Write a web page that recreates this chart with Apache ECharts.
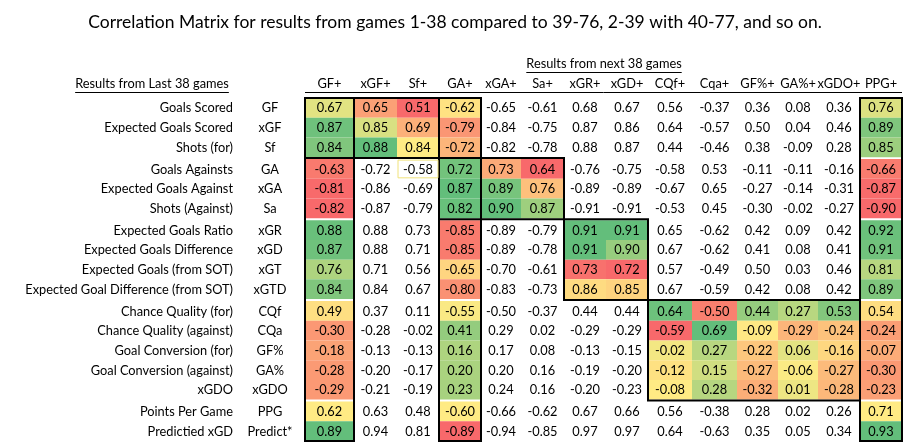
<!DOCTYPE html>
<html>
<head>
<meta charset="utf-8">
<script src="https://cdn.jsdelivr.net/npm/echarts@6/dist/echarts.min.js"></script>
<style>
  html, body { margin: 0; padding: 0; background: #fff; }
  #chart { width: 908px; height: 444px; }
</style>
</head>
<body>
<div id="chart"></div>
<script>
// row labels (results from last 38 games)
const rowNames = [
  "Goals Scored", "Expected Goals Scored", "Shots (for)",
  "Goals Againsts", "Expected Goals Against", "Shots (Against)",
  "Expected Goals Ratio", "Expected Goals Difference", "Expected Goals (from SOT)", "Expected Goal Difference (from SOT)",
  "Chance Quality (for)", "Chance Quality (against)", "Goal Conversion (for)", "Goal Conversion (against)", "xGDO",
  "Points Per Game", "Predictied xGD"
];
const rowCodes = [
  "GF", "xGF", "Sf",
  "GA", "xGA", "Sa",
  "xGR", "xGD", "xGT", "xGTD",
  "CQf", "CQa", "GF%", "GA%", "xGDO",
  "PPG", "Predict*"
];
// how many rows in each block
const rowGroups = [3, 3, 4, 5, 2];

// column labels (results from next 38 games)
const colNames = ["GF+", "xGF+", "Sf+", "GA+", "xGA+", "Sa+", "xGR+", "xGD+", "CQf+", "Cqa+", "GF%+", "GA%+", "xGDO+", "PPG+"];
const colGroups = [3, 3, 2, 5, 1];

// correlations, one row per label above
const values = [
  [0.67, 0.65, 0.51, -0.62, -0.65, -0.61, 0.68, 0.67, 0.56, -0.37, 0.36, 0.08, 0.36, 0.76],
  [0.87, 0.85, 0.69, -0.79, -0.84, -0.75, 0.87, 0.86, 0.64, -0.57, 0.50, 0.04, 0.46, 0.89],
  [0.84, 0.88, 0.84, -0.72, -0.82, -0.78, 0.88, 0.87, 0.44, -0.46, 0.38, -0.09, 0.28, 0.85],
  [-0.63, -0.72, -0.58, 0.72, 0.73, 0.64, -0.76, -0.75, -0.58, 0.53, -0.11, -0.11, -0.16, -0.66],
  [-0.81, -0.86, -0.69, 0.87, 0.89, 0.76, -0.89, -0.89, -0.67, 0.65, -0.27, -0.14, -0.31, -0.87],
  [-0.82, -0.87, -0.79, 0.82, 0.90, 0.87, -0.91, -0.91, -0.53, 0.45, -0.30, -0.02, -0.27, -0.90],
  [0.88, 0.88, 0.73, -0.85, -0.89, -0.79, 0.91, 0.91, 0.65, -0.62, 0.42, 0.09, 0.42, 0.92],
  [0.87, 0.88, 0.71, -0.85, -0.89, -0.78, 0.91, 0.90, 0.67, -0.62, 0.41, 0.08, 0.41, 0.91],
  [0.76, 0.71, 0.56, -0.65, -0.70, -0.61, 0.73, 0.72, 0.57, -0.49, 0.50, 0.03, 0.46, 0.81],
  [0.84, 0.84, 0.67, -0.80, -0.83, -0.73, 0.86, 0.85, 0.67, -0.59, 0.42, 0.08, 0.42, 0.89],
  [0.49, 0.37, 0.11, -0.55, -0.50, -0.37, 0.44, 0.44, 0.64, -0.50, 0.44, 0.27, 0.53, 0.54],
  [-0.30, -0.28, -0.02, 0.41, 0.29, 0.02, -0.29, -0.29, -0.59, 0.69, -0.09, -0.29, -0.24, -0.24],
  [-0.18, -0.13, -0.13, 0.16, 0.17, 0.08, -0.13, -0.15, -0.02, 0.27, -0.22, 0.06, -0.16, -0.07],
  [-0.28, -0.20, -0.17, 0.20, 0.20, 0.16, -0.19, -0.20, -0.12, 0.15, -0.27, -0.06, -0.27, -0.30],
  [-0.29, -0.21, -0.19, 0.23, 0.24, 0.16, -0.20, -0.23, -0.08, 0.28, -0.32, 0.01, -0.28, -0.23],
  [0.62, 0.63, 0.48, -0.60, -0.66, -0.62, 0.67, 0.66, 0.56, -0.38, 0.28, 0.02, 0.26, 0.71],
  [0.89, 0.94, 0.81, -0.89, -0.94, -0.85, 0.97, 0.97, 0.64, -0.63, 0.35, 0.05, 0.34, 0.93]
];

// colour-scale ranges [rowFrom, rowTo, colFrom, colTo]; first match wins (like excel rule order)
const scaleRanges = [
  [0, 16, 0, 0], [0, 16, 3, 3], [0, 16, 13, 13],
  [0, 2, 0, 2], [3, 5, 3, 5], [6, 9, 6, 7], [10, 14, 8, 12]
];

const title = "Correlation Matrix for results from games 1-38 compared to 39-76, 2-39 with 40-77, and so on.";
const leftHeader = "Results from Last 38 games";
const topHeader = "Results from next 38 games";

// ---- layout ----
const FONT = "Lato";
const FS = 12.8;
const colWidths = [49, 43, 42, 42, 40, 43, 42, 42, 44, 45, 41, 40, 42, 42];
const GAP = 0.1; // space between row blocks, in row heights

const colLeft = [];
colWidths.reduce((acc, w, i) => { colLeft[i] = acc; return acc + w; }, 0);
const gridWidth = colWidths.reduce((a, b) => a + b, 0);

const rowGroupOf = [];
rowGroups.forEach((n, g) => { for (let k = 0; k < n; k++) rowGroupOf.push(g); });
const rowTop = rowGroupOf.map((g, i) => i + g * GAP);
const yMax = rowNames.length + (rowGroups.length - 1) * GAP;

const colGroupOf = [];
colGroups.forEach((n, g) => { for (let k = 0; k < n; k++) colGroupOf.push(g); });

// ---- excel style 3 colour scale ----
const LOW = [248, 105, 107], MID = [255, 235, 132], HIGH = [99, 190, 123];

function percentile(sorted, p) {
  const idx = (sorted.length - 1) * p;
  const lo = Math.floor(idx), hi = Math.ceil(idx);
  return sorted[lo] + (sorted[hi] - sorted[lo]) * (idx - lo);
}
function mix(a, b, t) {
  return 'rgb(' + a.map((v, i) => Math.round(v + (b[i] - v) * t)).join(',') + ')';
}
const scaleStats = scaleRanges.map(([r0, r1, c0, c1]) => {
  const list = [];
  for (let r = r0; r <= r1; r++) for (let c = c0; c <= c1; c++) list.push(values[r][c]);
  list.sort((a, b) => a - b);
  return {min: list[0], max: list[list.length - 1], mid: percentile(list, 0.5)};
});
function cellColor(r, c) {
  for (let k = 0; k < scaleRanges.length; k++) {
    const [r0, r1, c0, c1] = scaleRanges[k];
    if (r >= r0 && r <= r1 && c >= c0 && c <= c1) {
      const s = scaleStats[k], v = values[r][c];
      if (v <= s.mid) return mix(LOW, MID, s.mid === s.min ? 1 : (v - s.min) / (s.mid - s.min));
      return mix(MID, HIGH, s.max === s.mid ? 1 : (v - s.mid) / (s.max - s.mid));
    }
  }
  return null;
}

// ---- series data ----
const cellData = [];
values.forEach((row, r) => row.forEach((v, c) => cellData.push([c, r, v])));

// bordered boxes: full columns + diagonal blocks
function groupTop(g) {
  if (g === 0) return 0;
  return rowTop[rowGroupOf.indexOf(g)] - GAP / 2;
}
function groupBottom(g) {
  if (g === rowGroups.length - 1) return yMax;
  return rowTop[rowGroupOf.lastIndexOf(g)] + 1 + GAP / 2;
}
const boxes = [];
[0, 3, 13].forEach(c => boxes.push([colLeft[c], colLeft[c] + colWidths[c], 0, yMax]));
for (let g = 0; g < 4; g++) {
  const c0 = colGroupOf.indexOf(g), c1 = colGroupOf.lastIndexOf(g);
  boxes.push([colLeft[c0], colLeft[c1] + colWidths[c1], groupTop(g), groupBottom(g)]);
}

const chart = echarts.init(document.getElementById('chart'), null, {renderer: 'canvas'});

// measure text for the underlined headers
const ctx = document.createElement('canvas').getContext('2d');
function textWidth(t, size) {
  ctx.font = size + 'px ' + FONT;
  return ctx.measureText(t).width;
}
const lw = textWidth(leftHeader, FS);
const tw = textWidth(topHeader, FS);
const txt = (s) => ({font: FS + 'px ' + FONT, fill: '#000', verticalAlign: 'middle', text: s});

const option = {
  backgroundColor: '#fff',
  animation: false,
  title: {
    text: title,
    left: 450,
    textAlign: 'center',
    top: 8,
    textStyle: {fontFamily: FONT, fontSize: 17.5, fontWeight: 'normal', color: '#000'}
  },
  grid: {left: 305, top: 98, width: gridWidth, height: 343},
  xAxis: {type: 'value', min: 0, max: gridWidth, show: false},
  yAxis: {type: 'value', min: 0, max: yMax, inverse: true, show: false},
  graphic: [
    {type: 'text', x: 152, y: 84, style: Object.assign(txt(leftHeader), {align: 'center'})},
    {type: 'line', shape: {x1: 152 - lw / 2, y1: 92.5, x2: 152 + lw / 2, y2: 92.5}, style: {stroke: '#000', lineWidth: 1}},
    {type: 'text', x: 604, y: 64, style: Object.assign(txt(topHeader), {align: 'center'})},
    {type: 'line', shape: {x1: 604 - tw / 2, y1: 72.5, x2: 604 + tw / 2, y2: 72.5}, style: {stroke: '#000', lineWidth: 1}}
  ],
  series: [
    {
      // coloured cells with values
      type: 'custom',
      data: cellData,
      renderItem: function (params, api) {
        const c = api.value(0), r = api.value(1), v = api.value(2);
        const p0 = api.coord([colLeft[c], rowTop[r]]);
        const p1 = api.coord([colLeft[c] + colWidths[c], rowTop[r] + 1]);
        const fill = cellColor(r, c);
        const children = [];
        if (fill) {
          children.push({type: 'rect', shape: {x: p0[0], y: p0[1], width: p1[0] - p0[0], height: p1[1] - p0[1]}, style: {fill: fill}});
        }
        children.push({
          type: 'text', x: (p0[0] + p1[0]) / 2, y: (p0[1] + p1[1]) / 2 + 0.5,
          style: Object.assign(txt(v.toFixed(2)), {align: 'center'})
        });
        return {type: 'group', children: children};
      }
    },
    {
      // row labels
      type: 'custom',
      data: rowNames.map((n, r) => [0, r]),
      renderItem: function (params, api) {
        const r = api.value(1);
        const p = api.coord([0, rowTop[r] + 0.5]);
        return {type: 'group', children: [
          {type: 'text', x: p[0] - 72, y: p[1] + 0.5, style: Object.assign(txt(rowNames[r]), {align: 'right'})},
          {type: 'text', x: p[0] - 35, y: p[1] + 0.5, style: Object.assign(txt(rowCodes[r]), {align: 'center'})}
        ]};
      }
    },
    {
      // column headers
      type: 'custom',
      data: colNames.map((n, c) => [c, 0]),
      renderItem: function (params, api) {
        const c = api.value(0);
        const p = api.coord([colLeft[c] + colWidths[c] / 2, 0]);
        return {type: 'text', x: p[0], y: p[1] - 14, style: Object.assign(txt(colNames[c]), {align: 'center'})};
      }
    },
    {
      // header underline, thick boxes and the highlighted cell outline
      type: 'custom',
      data: [0],
      renderItem: function (params, api) {
        const children = [];
        const a = api.coord([0, 0]), b = api.coord([gridWidth, 0]);
        children.push({type: 'line', shape: {x1: a[0], y1: a[1] - 5.5, x2: b[0], y2: b[1] - 5.5}, style: {stroke: '#000', lineWidth: 1}});
        boxes.forEach(([x0, x1, y0, y1]) => {
          const p0 = api.coord([x0, y0]), p1 = api.coord([x1, y1]);
          children.push({type: 'rect', shape: {x: p0[0], y: p0[1], width: p1[0] - p0[0], height: p1[1] - p0[1]}, style: {fill: null, stroke: '#000', lineWidth: 2}});
        });
        const q0 = api.coord([colLeft[2] + 1, rowTop[3] + 0.05]), q1 = api.coord([colLeft[2] + colWidths[2] - 1, rowTop[3] + 0.95]);
        children.push({type: 'rect', shape: {x: q0[0], y: q0[1], width: q1[0] - q0[0], height: q1[1] - q0[1]}, style: {fill: null, stroke: '#F0E27A', lineWidth: 1}});
        return {type: 'group', children: children};
      }
    }
  ]
};
chart.setOption(option);
</script>
</body>
</html>
